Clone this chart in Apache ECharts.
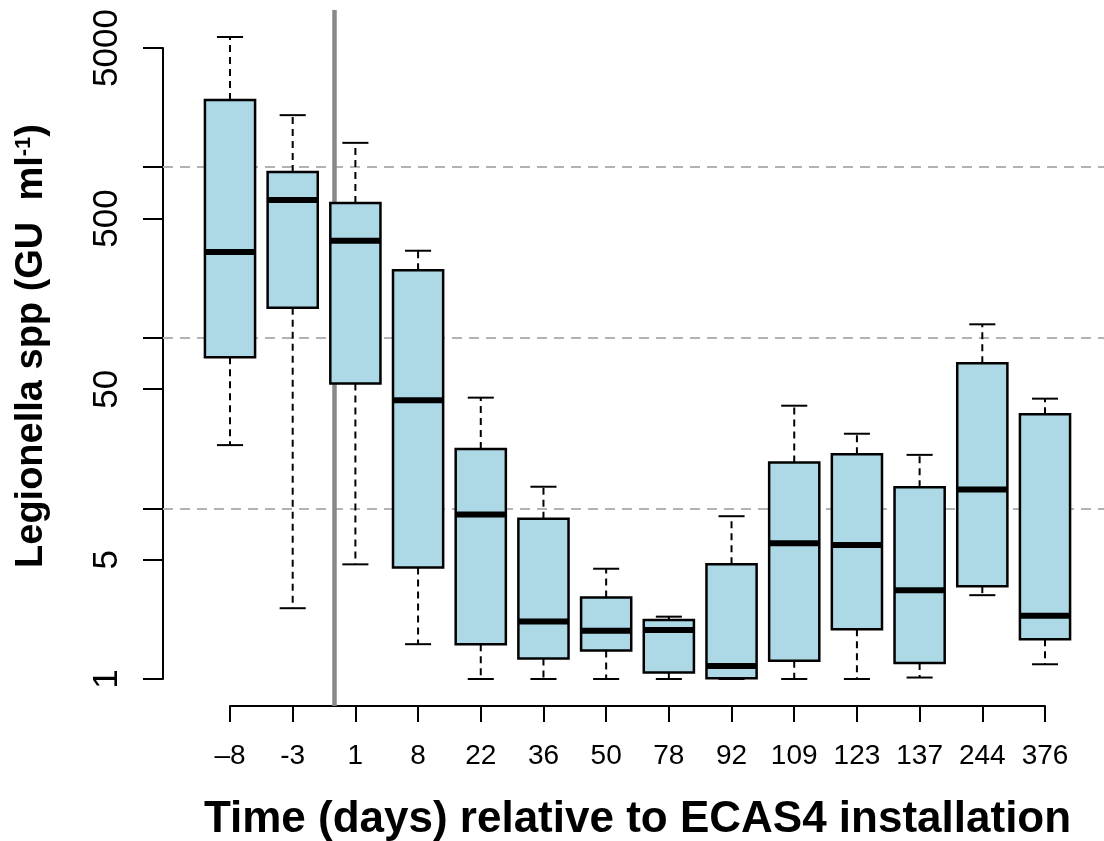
<!DOCTYPE html>
<html>
<head>
<meta charset="utf-8">
<title>Legionella spp boxplot</title>
<script src="https://cdn.jsdelivr.net/npm/echarts@6/dist/echarts.min.js"></script>
<style>
  html, body { margin: 0; padding: 0; background: #fff; }
  #chart { width: 1104px; height: 841px; }
</style>
</head>
<body>
<div id="chart"></div>
<script>
// 箱线图数据 (GU/ml), 按天数排列
var days = ['–8', '-3', '1', '8', '22', '36', '50', '78', '92', '109', '123', '137', '244', '376'];
var lowWhisker  = [23.5, 2.6, 4.7, 1.6, 1, 1, 1, 1, 1, 1, 1, 1.02, 3.1, 1.22];
var lowerQuart  = [77, 150, 54, 4.5, 1.6, 1.32, 1.47, 1.09, 1.01, 1.28, 1.96, 1.24, 3.5, 1.71];
var medians     = [318, 643, 371, 43, 9.2, 2.17, 1.92, 1.94, 1.19, 6.24, 6.1, 3.31, 12.9, 2.35];
var upperQuart  = [2480, 938, 617, 249, 22.3, 8.7, 3.0, 2.22, 4.7, 18.6, 20.8, 13.3, 71, 35.6];
var highWhisker = [5800, 2020, 1390, 324, 44.6, 13.4, 4.43, 2.32, 9.0, 40, 27.4, 20.6, 120, 44];

// 坐标轴刻度
var tickValues = [1, 5, 10, 50, 100, 500, 1000, 5000];
var labelValues = [1, 5, 50, 500, 5000];
var gridValues = [10, 100, 1000];
var installPos = 2.66; // ECAS4 安装时间 (在 -3 和 1 之间)

// 版面 (像素)
var W = 1104, H = 841;
var axisLeft = 163, firstX = 230, lastX = 1045;
var axisBottom = 706, yLow = 679, yHigh = 48, plotTop = 10;

var yTop = Math.log10(5000);
var unitX = (lastX - firstX) / (days.length - 1);
var unitY = (yLow - yHigh) / yTop;
var font = 'Liberation Sans, Arial, Helvetica, sans-serif';

var boxData = [];
for (var i = 0; i < days.length; i++) {
    boxData.push([i + 1,
        Math.log10(lowWhisker[i]), Math.log10(lowerQuart[i]), Math.log10(medians[i]),
        Math.log10(upperQuart[i]), Math.log10(highWhisker[i])]);
}

function renderBox(params, api) {
    var x = api.value(0);
    var lo = api.coord([x, api.value(1)]);
    var q1 = api.coord([x, api.value(2)]);
    var md = api.coord([x, api.value(3)]);
    var q3 = api.coord([x, api.value(4)]);
    var hi = api.coord([x, api.value(5)]);
    var half = api.size([1, 0])[0] * 0.4;
    var cap = half * 0.52;
    var cx = lo[0];
    var whisker = { stroke: '#000', lineWidth: 2, lineDash: [7, 5] };
    var solid = { stroke: '#000', lineWidth: 2 };
    return {
        type: 'group',
        children: [
            { type: 'line', shape: { x1: cx, y1: q3[1], x2: cx, y2: hi[1] }, style: whisker },
            { type: 'line', shape: { x1: cx, y1: q1[1], x2: cx, y2: lo[1] }, style: whisker },
            { type: 'line', shape: { x1: cx - cap, y1: hi[1], x2: cx + cap, y2: hi[1] }, style: solid },
            { type: 'line', shape: { x1: cx - cap, y1: lo[1], x2: cx + cap, y2: lo[1] }, style: solid },
            {
                type: 'rect',
                shape: { x: cx - half, y: q3[1], width: half * 2, height: q1[1] - q3[1] },
                style: { fill: '#add8e6', stroke: '#000', lineWidth: 2.5 }
            },
            {
                type: 'line',
                shape: { x1: cx - half, y1: md[1], x2: cx + half, y2: md[1] },
                style: { stroke: '#000', lineWidth: 6 }
            }
        ]
    };
}

var gridLines = gridValues.map(function (v) {
    return { yAxis: Math.log10(v), lineStyle: { color: '#b3b3b3', width: 2, type: [10, 7] } };
});
gridLines.push({ xAxis: installPos, lineStyle: { color: '#888888', width: 4.5, type: 'solid' } });

var chart = echarts.init(document.getElementById('chart'));
var option = {
    animation: false,
    backgroundColor: '#fff',
    grid: [
        { left: firstX, right: W - lastX, top: yHigh, bottom: H - yLow, containLabel: false, outerBoundsMode: 'none' },
        { left: axisLeft, right: 0, top: plotTop, bottom: H - axisBottom, containLabel: false, outerBoundsMode: 'none' }
    ],
    xAxis: [
        {
            type: 'value', gridIndex: 0, min: 1, max: days.length, interval: 1,
            offset: axisBottom - yLow,
            axisLine: { show: true, onZero: false, lineStyle: { color: '#000', width: 2 } },
            axisTick: { show: true, inside: false, length: 16, lineStyle: { color: '#000', width: 2 } },
            axisLabel: {
                margin: 36, fontSize: 28, color: '#000', fontFamily: font,
                showMinLabel: true, showMaxLabel: true,
                formatter: function (v) { return days[Math.round(v) - 1] || ''; }
            },
            splitLine: { show: false },
            name: 'Time (days) relative to ECAS4 installation',
            nameLocation: 'middle', nameGap: 92, nameMoveOverlap: false,
            nameTextStyle: { fontSize: 44, fontWeight: 'bold', color: '#000', fontFamily: font }
        },
        {
            type: 'value', gridIndex: 1, show: false,
            min: 1 - (firstX - axisLeft) / unitX,
            max: days.length + (W - lastX) / unitX
        }
    ],
    yAxis: [
        {
            type: 'value', gridIndex: 0, min: 0, max: yTop,
            offset: firstX - axisLeft,
            axisLine: { show: true, onZero: false, lineStyle: { color: '#000', width: 2 } },
            axisTick: {
                show: true, inside: false, length: 20,
                customValues: tickValues.map(function (v) { return Math.log10(v); }),
                lineStyle: { color: '#000', width: 2 }
            },
            axisLabel: {
                customValues: labelValues.map(function (v) { return Math.log10(v); }),
                rotate: 90, margin: 38, fontSize: 35, color: '#000', fontFamily: font,
                formatter: function (v) { return String(Math.round(Math.pow(10, v))); }
            },
            splitLine: { show: false }
        },
        {
            type: 'value', gridIndex: 1, show: false,
            min: -(axisBottom - yLow) / unitY,
            max: yTop + (yHigh - plotTop) / unitY
        }
    ],
    graphic: [
        {
            type: 'text', x: 32, y: 346, rotation: Math.PI / 2,
            style: {
                text: 'Legionella spp (GU  ml{s|-1})',
                fontSize: 38, fontWeight: 'bold', fontFamily: font, fill: '#000',
                align: 'center', verticalAlign: 'middle',
                rich: { s: { fontSize: 22, fontWeight: 'bold', fontFamily: font, verticalAlign: 'top', fill: '#000' } }
            }
        }
    ],
    series: [
        {
            type: 'line', xAxisIndex: 1, yAxisIndex: 1, data: [], z: 1,
            markLine: {
                silent: true, z: 1, symbol: ['none', 'none'],
                label: { show: false },
                data: gridLines
            }
        },
        {
            type: 'custom', xAxisIndex: 0, yAxisIndex: 0, z: 3,
            renderItem: renderBox,
            encode: { x: 0, y: [1, 2, 3, 4, 5] },
            data: boxData
        }
    ]
};
chart.setOption(option);
</script>
</body>
</html>
